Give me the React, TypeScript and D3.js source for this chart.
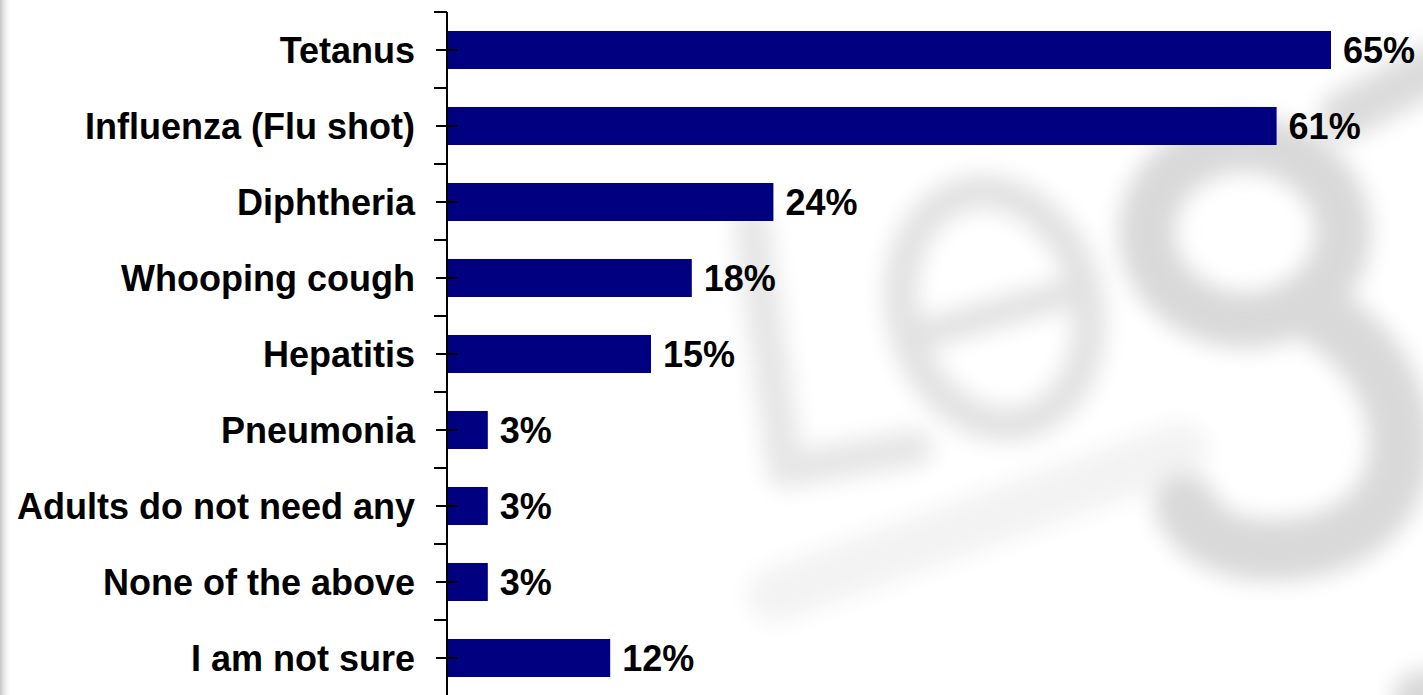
import { useEffect } from "react";
import * as d3 from "d3";

const width = 1423;
const height = 695;
const margin = { top: 12, right: 24, bottom: -1, left: 447 };

const categories = [
  "Tetanus",
  "Influenza (Flu shot)",
  "Diphtheria",
  "Whooping cough",
  "Hepatitis",
  "Pneumonia",
  "Adults do not need any",
  "None of the above",
  "I am not sure",
];
const values = [65, 61, 24, 18, 15, 3, 3, 3, 12];

const App = () => {
  const yScale = d3
    .scaleBand<string>()
    .domain(categories)
    .range([margin.top, height - margin.bottom])
    .paddingInner(0.5)
    .paddingOuter(0.25);

  const xScale = d3.scaleLinear().domain([0, 70]).range([margin.left, width - margin.right]);

  const step = yScale.step();
  const boundaries = d3.range(categories.length + 1).map((i) => margin.top + i * step);

  useEffect(() => {
    document.body.style.margin = "0";
  }, []);

  const font = "'Liberation Sans', Arial, sans-serif";
  const mid = (c: string) => (yScale(c) ?? 0) + yScale.bandwidth() / 2;

  return (
    <svg width={width} height={height} style={{ display: "block", background: "#fff" }}>
      <defs>
        <linearGradient id="edge" x1="0" x2="1" y1="0" y2="0">
          <stop offset="0" stopColor="#c4c4c4" />
          <stop offset="1" stopColor="#ffffff" stopOpacity="0" />
        </linearGradient>
        <filter id="blur" x="-30%" y="-30%" width="160%" height="160%">
          <feGaussianBlur stdDeviation="11" />
        </filter>
      </defs>

      {/* faint blurred logo in the background */}
      <g filter="url(#blur)" fill="none" strokeLinecap="round" strokeLinejoin="round">
        <path d="M 775 595 L 1180 450" stroke="#f3f3f3" strokeWidth={55} />
        <path d="M 752 225 L 785 470 L 915 448" stroke="#e6e6e6" strokeWidth={36} />
        <ellipse cx={995} cy={308} rx={92} ry={118} stroke="#e2e2e2" strokeWidth={34}
          transform="rotate(-15 995 308)" />
        <path d="M 920 335 L 1080 290" stroke="#e2e2e2" strokeWidth={30} />
        <ellipse cx={1245} cy={232} rx={98} ry={88} stroke="#d9d9d9" strokeWidth={56} />
        <path d="M 1320 315 C 1430 380, 1430 530, 1300 548 C 1240 556, 1200 540, 1185 505"
          stroke="#d9d9d9" strokeWidth={62} />
        <path d="M 1345 115 L 1430 70" stroke="#dcdcdc" strokeWidth={50} />
        <circle cx={1423} cy={700} r={30} fill="#d8d8d8" stroke="none" />
      </g>
      <rect x={0} y={0} width={12} height={height} fill="url(#edge)" />

      {/* bars */}
      {categories.map((c, i) => (
        <rect
          key={c}
          x={xScale(0)}
          y={yScale(c)}
          width={xScale(values[i]) - xScale(0)}
          height={yScale.bandwidth()}
          fill="#000080"
        />
      ))}

      {/* category axis */}
      <g stroke="#000" strokeWidth={2}>
        <line x1={xScale(0)} x2={xScale(0)} y1={margin.top} y2={height} />
        {boundaries.map((y, i) => (
          <line key={`b${i}`} x1={xScale(0) - 13} x2={xScale(0)} y1={y} y2={y} />
        ))}
        {categories.map((c) => (
          <line key={`m${c}`} x1={xScale(0) - 11} x2={xScale(0) + 10} y1={mid(c)} y2={mid(c)} />
        ))}
      </g>

      {/* category labels */}
      {categories.map((c) => (
        <text
          key={`l${c}`}
          x={xScale(0) - 32}
          y={mid(c)}
          dy="0.36em"
          textAnchor="end"
          fontFamily={font}
          fontWeight="bold"
          fontSize={36}
          fill="#000"
        >
          {c}
        </text>
      ))}

      {/* value labels */}
      {categories.map((c, i) => (
        <text
          key={`v${c}`}
          x={xScale(values[i]) + 12}
          y={mid(c)}
          dy="0.36em"
          fontFamily={font}
          fontWeight="bold"
          fontSize={36}
          fill="#000"
        >
          {values[i]}%
        </text>
      ))}
    </svg>
  );
};

export default App;
